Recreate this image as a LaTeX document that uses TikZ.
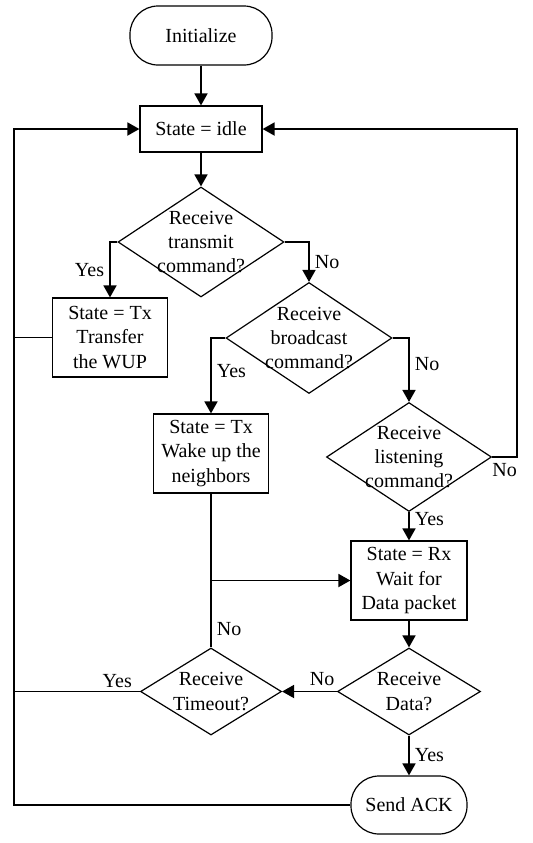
\documentclass[tikz,border=0pt]{standalone}
\usepackage{fontspec}
\setmainfont{Liberation Serif}
\usetikzlibrary{arrows.meta,shapes.geometric}
\tikzset{
  flow/.style={-{Triangle[length=6pt,width=6.5pt]}, line width=0.9pt},
  link/.style={line width=0.9pt},
  terminal/.style={draw, line width=0.6pt, rounded corners=14pt,
    inner sep=2pt, align=center},
  process/.style={draw, line width=0.6pt, inner sep=2pt, align=center},
  decision/.style={diamond, draw, line width=0.6pt, inner sep=-10pt,
    align=center},
  answer/.style={inner sep=2.5pt}
}

\begin{document}
\begin{tikzpicture}[x=0.5pt, y=-0.5pt, font=\fontsize{10}{12.2}\selectfont]
  \useasboundingbox (0,0) rectangle (533,843);

  % States and tests
  \node[terminal, minimum width=71pt, minimum height=29.5pt] (init) at (201,35.5)
    {Initialize};
  \node[process, minimum width=61pt, minimum height=23pt] (idle) at (201,129)
    {State = idle};
  \node[decision, minimum width=83pt, minimum height=55pt] (transmit) at (201,242)
    {Receive\\transmit\\command?};
  \node[process, minimum width=57.5pt, minimum height=39.5pt] (txwup) at (110,337.5)
    {State = Tx\\Transfer\\the WUP};
  \node[decision, minimum width=83pt, minimum height=55.5pt] (broadcast) at (309,338)
    {Receive\\broadcast\\command?};
  \node[process, minimum width=57.5pt, minimum height=39.5pt] (txwake) at (211,453.5)
    {State = Tx\\Wake up the\\neighbors};
  \node[decision, minimum width=82.5pt, minimum height=54.5pt] (listen) at (409,457)
    {Receive\\listening\\command?};
  \node[process, minimum width=58pt, minimum height=39.5pt] (rx) at (409,580.5)
    {State = Rx\\Wait for\\Data packet};
  \node[decision, minimum width=71.5pt, minimum height=43.5pt] (data) at (409,691.5)
    {Receive\\Data?};
  \node[decision, minimum width=70.5pt, minimum height=43.5pt] (timeout) at (211,691.5)
    {Receive\\Timeout?};
  \node[terminal, minimum width=58pt, minimum height=29pt] (ack) at (409,805)
    {Send ACK};

  % Return rails
  \coordinate (lrail) at (14,129);
  \coordinate (rrail) at (517,129);
  \coordinate (join) at (txwake.south |- rx.west);

  \draw[flow] (init) -- (idle);
  \draw[flow] (idle) -- (transmit);
  \draw[flow] (transmit.west) -| node[answer, pos=0.75, left] {Yes} (txwup.north);
  \draw[flow] (transmit.east) -| node[answer, pos=0.75, right] {No} (broadcast.north);
  \draw[flow] (broadcast.west) -| node[answer, pos=0.72, right] {Yes} (txwake.north);
  \draw[flow] (broadcast.east) -| node[answer, pos=0.7, right] {No} (listen.north);
  \draw[flow] (listen.east) -- node[answer, below] {No} (listen.east -| rrail)
    -- (rrail) -- (idle.east);
  \draw[flow] (listen.south) -- node[answer, pos=0.25, right] {Yes} (rx.north);
  \draw[flow] (rx) -- (data);
  \draw[flow] (data.west) -- node[answer, pos=0.27, above] {No} (timeout.east);
  \draw[flow] (data.south) -- node[answer, right] {Yes} (ack.north);
  \draw[link] (txwake.south) -- (join);
  \draw[link] (timeout.north) -- node[answer, pos=0.27, right] {No} (join);
  \draw[flow] (join) -- (rx.west);
  \draw[link] (txwup.west) -- (txwup.west -| lrail);
  \draw[link] (timeout.west) -- node[answer, inner sep=1.5pt, pos=0.18, above] {Yes}
    (timeout.west -| lrail);
  \draw[flow] (ack.west) -- (ack.west -| lrail) -- (lrail) -- (idle.west);
\end{tikzpicture}
\end{document}
